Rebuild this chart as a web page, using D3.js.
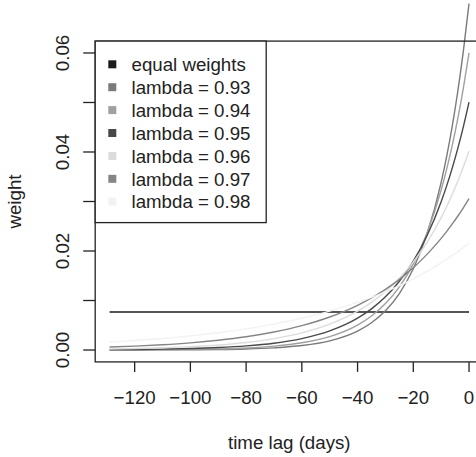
<!DOCTYPE html>
<html>
<head>
<meta charset="utf-8">
<script src="https://cdn.jsdelivr.net/npm/d3@7"></script>
<style>
  body { margin: 0; background: #fff; }
  svg { display: block; font-family: "Liberation Sans", Arial, sans-serif; }
</style>
</head>
<body>
<svg id="chart" width="476" height="457"></svg>
<script>
// lags (days)
var lags = [-129, -120, -110, -100, -90, -80, -70, -60, -50, -40, -35, -30, -25, -20, -15, -10, -8, -6, -4, -2, 0];

// weights, one array per curve
var w_equal = [0.00769, 0.00769, 0.00769, 0.00769, 0.00769, 0.00769, 0.00769, 0.00769, 0.00769, 0.00769, 0.00769,
    0.00769, 0.00769, 0.00769, 0.00769, 0.00769, 0.00769, 0.00769, 0.00769, 0.00769, 0.00769];
var w_093 = [0.00001, 0.00001, 0.00002, 0.00005, 0.00010, 0.00021, 0.00044, 0.00090, 0.00186, 0.00384, 0.00552,
    0.00794, 0.01141, 0.01640, 0.02357, 0.03388, 0.03917, 0.04529, 0.05237, 0.06054, 0.07000];
var w_094 = [0.00002, 0.00004, 0.00007, 0.00012, 0.00023, 0.00042, 0.00079, 0.00147, 0.00272, 0.00505, 0.00688,
    0.00938, 0.01277, 0.01741, 0.02372, 0.03232, 0.03658, 0.04140, 0.04685, 0.05302, 0.06002];
var w_095 = [0.00007, 0.00011, 0.00018, 0.00030, 0.00050, 0.00083, 0.00138, 0.00231, 0.00385, 0.00643, 0.00831,
    0.01074, 0.01389, 0.01795, 0.02319, 0.02997, 0.03321, 0.03680, 0.04077, 0.04518, 0.05006];
var w_096 = [0.00021, 0.00030, 0.00045, 0.00068, 0.00102, 0.00153, 0.00231, 0.00347, 0.00522, 0.00785, 0.00963,
    0.01181, 0.01449, 0.01777, 0.02179, 0.02673, 0.02900, 0.03147, 0.03414, 0.03705, 0.04020];
var w_097 = [0.00060, 0.00079, 0.00107, 0.00145, 0.00197, 0.00267, 0.00363, 0.00492, 0.00667, 0.00904, 0.01053,
    0.01226, 0.01428, 0.01663, 0.01937, 0.02255, 0.02397, 0.02547, 0.02707, 0.02878, 0.03058];
var w_098 = [0.00159, 0.00191, 0.00234, 0.00286, 0.00350, 0.00428, 0.00524, 0.00642, 0.00785, 0.00961, 0.01063,
    0.01176, 0.01301, 0.01439, 0.01592, 0.01762, 0.01834, 0.01910, 0.01989, 0.02071, 0.02156];

var seriesNames = ["equal weights", "lambda = 0.93", "lambda = 0.94", "lambda = 0.95",
    "lambda = 0.96", "lambda = 0.97", "lambda = 0.98"];
var seriesValues = [w_equal, w_093, w_094, w_095, w_096, w_097, w_098];
var seriesColors = ["#1c1c1c", "#7a7a7a", "#a0a0a0", "#484848", "#dcdcdc", "#858585", "#f2f2f2"];

var xTicks = [-120, -100, -80, -60, -40, -20, 0];
var yTicks = [0, 0.01, 0.02, 0.03, 0.04, 0.05, 0.06];
var yLabels = [0, 0.02, 0.04, 0.06];

var svg = d3.select("#chart");
var fs = 18.7;
var ink = "#222";

// plot region (R style, 4% padding)
var pL = 95.2, pR = 483.4, pT = 41.1, pB = 361.9;
var x = d3.scaleLinear().domain([-134.16, 5.16]).range([pL, pR]);
var y = d3.scaleLinear().domain([-0.0024, 0.0624]).range([pB, pT]);

var line = d3.line()
    .x(function(d){ return x(d[0]); })
    .y(function(d){ return y(d[1]); })
    .curve(d3.curveMonotoneX);

seriesValues.forEach(function(vals, i){
    svg.append("path")
        .datum(lags.map(function(l, j){ return [l, vals[j]]; }))
        .attr("d", line)
        .attr("fill", "none")
        .attr("stroke", seriesColors[i])
        .attr("stroke-width", 1.4);
});

// box
svg.append("rect")
    .attr("x", pL).attr("y", pT)
    .attr("width", pR - pL).attr("height", pB - pT)
    .attr("fill", "none").attr("stroke", ink).attr("stroke-width", 1.3);

// x axis
svg.selectAll(".xt").data(xTicks).enter().append("line")
    .attr("x1", d => x(d)).attr("x2", d => x(d))
    .attr("y1", pB).attr("y2", pB + 10)
    .attr("stroke", ink).attr("stroke-width", 1.3);
svg.selectAll(".xl").data(xTicks).enter().append("text")
    .attr("x", d => x(d)).attr("y", 403.5)
    .attr("text-anchor", "middle")
    .attr("font-size", fs).attr("fill", ink)
    .text(d => d3.format("d")(d).replace("-", "\u2212"));

// y axis
svg.selectAll(".yt").data(yTicks).enter().append("line")
    .attr("x1", pL - 12).attr("x2", pL)
    .attr("y1", d => y(d)).attr("y2", d => y(d))
    .attr("stroke", ink).attr("stroke-width", 1.3);
svg.selectAll(".yl").data(yLabels).enter().append("text")
    .attr("transform", d => "translate(68.5," + y(d) + ") rotate(-90)")
    .attr("text-anchor", "middle")
    .attr("font-size", fs).attr("fill", ink)
    .text(d => d3.format(".2f")(d));

// axis titles
svg.append("text")
    .attr("x", (pL + pR) / 2).attr("y", 449)
    .attr("text-anchor", "middle")
    .attr("font-size", fs).attr("fill", ink)
    .text("time lag (days)");
svg.append("text")
    .attr("transform", "translate(21," + (pT + pB) / 2 + ") rotate(-90)")
    .attr("text-anchor", "middle")
    .attr("font-size", fs).attr("fill", ink)
    .text("weight");

// legend
var lg = svg.append("g");
lg.append("rect")
    .attr("x", pL).attr("y", pT)
    .attr("width", 171).attr("height", 181.5)
    .attr("fill", "#fff").attr("stroke", ink).attr("stroke-width", 1.3);
seriesNames.forEach(function(n, i){
    var cy = 64.3 + i * 22.9;
    lg.append("rect")
        .attr("x", 108.3).attr("y", cy - 4)
        .attr("width", 8).attr("height", 8)
        .attr("fill", seriesColors[i]);
    lg.append("text")
        .attr("x", 131.5).attr("y", cy + 6.7)
        .attr("font-size", fs).attr("fill", ink)
        .text(n);
});
</script>
</body>
</html>
